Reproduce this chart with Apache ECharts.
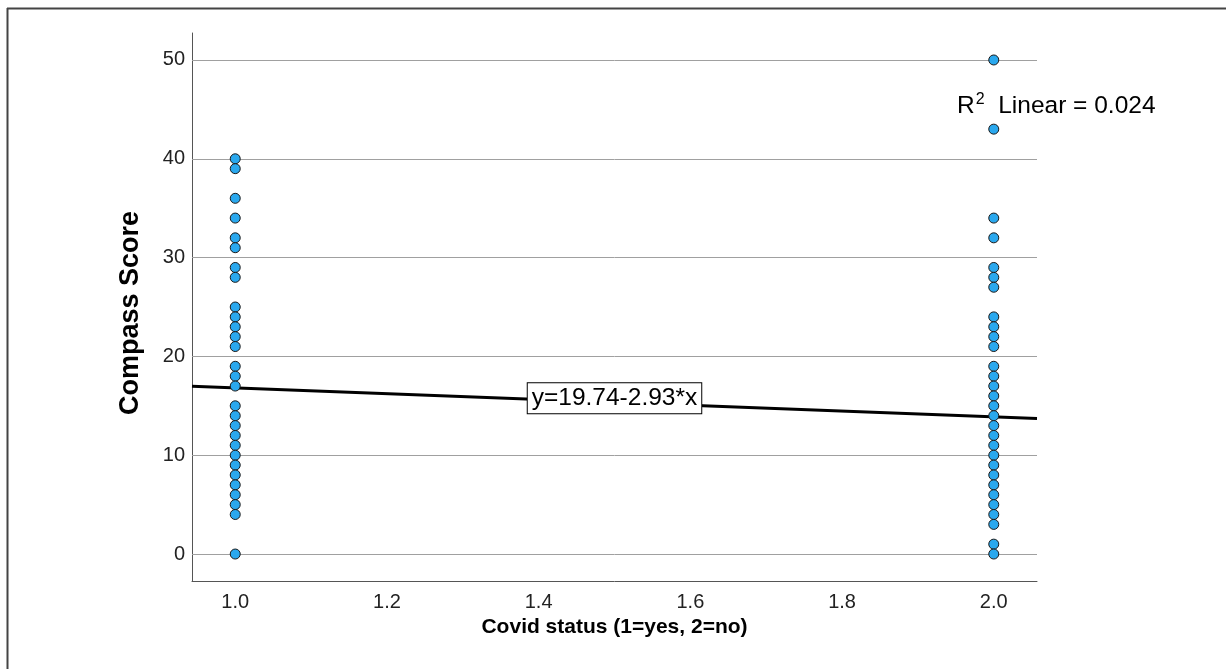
<!DOCTYPE html>
<html>
<head>
<meta charset="utf-8">
<script src="https://cdn.jsdelivr.net/npm/echarts@6/dist/echarts.min.js"></script>
<style>
html,body{margin:0;padding:0;background:#fff;}
#chart{width:1226px;height:669px;}
</style>
</head>
<body>
<div id="chart"></div>
<script>
// Data
const groupX = [1.0, 2.0];
const scoresYes = [40,39,36,34,32,31,29,28,25,24,23,22,21,19,18,17,15,14,13,12,11,10,9,8,7,6,5,4,0];
const scoresNo = [50,43,34,32,29,28,27,24,23,22,21,19,18,17,16,15,14,13,12,11,10,9,8,7,6,5,4,3,1,0];
const fitLineX = [0.943, 2.057];
const fitLineY = [16.98, 13.71];
const fitLabelPoint = [1.5, 15.35];
const fitLabelText = 'y=19.74-2.93*x';
const r2Text = '0.024';
const yTicks = [0,10,20,30,40,50];
const xTicks = [1.0,1.2,1.4,1.6,1.8,2.0];
const gridValues = [0,10,20,30,40,50];

const pts = [];
scoresYes.forEach(v => pts.push([groupX[0], v]));
scoresNo.forEach(v => pts.push([groupX[1], v]));

const chart = echarts.init(document.getElementById('chart'), null, {renderer:'canvas'});
const font = '"Liberation Sans", Arial, sans-serif';
chart.setOption({
  animation: false,
  backgroundColor: '#fff',
  grid: {left:192, right:189, top:33, bottom:88},
  xAxis: {
    type:'value', min:0.943, max:2.057,
    axisLine:{show:true, onZero:false, lineStyle:{color:'#555', width:1}},
    axisTick:{show:false},
    splitLine:{show:false},
    axisLabel:{customValues:xTicks, formatter:v=>v.toFixed(1), color:'#222', fontSize:20, fontFamily:font, margin:11},
    name:'Covid status (1=yes, 2=no)', nameLocation:'middle', nameGap:33,
    nameTextStyle:{fontSize:21, fontWeight:'bold', color:'#000', fontFamily:font}
  },
  yAxis: {
    type:'value', min:-2.73, max:52.73,
    axisLine:{show:true, onZero:false, lineStyle:{color:'#555', width:1}},
    axisTick:{show:false},
    splitLine:{show:false},
    axisLabel:{customValues:yTicks, color:'#222', fontSize:20, fontFamily:font, margin:7},
    name:'Compass Score', nameLocation:'middle', nameGap:48, nameRotate:90,
    nameTextStyle:{fontSize:27, fontWeight:'bold', color:'#000', fontFamily:font, padding:[0,12,0,0]}
  },
  series: [
    {
      type:'line', data: fitLineX.map((x,i)=>[x, fitLineY[i]]),
      symbol:'none', lineStyle:{color:'#000', width:3}, z:3,
      markLine:{
        silent:true, symbol:'none', label:{show:false},
        lineStyle:{color:'#a0a0a0', width:1, type:'solid'},
        data: gridValues.map(v=>({yAxis:v})), z:1
      }
    },
    {
      type:'scatter', data:pts, symbol:'circle', symbolSize:10, z:4,
      itemStyle:{color:'#2aa8ee', borderColor:'#1a1a1a', borderWidth:1, opacity:1}
    },
    {
      type:'scatter', data:[fitLabelPoint], symbolSize:0, z:6,
      itemStyle:{opacity:1},
      label:{show:true, position:'inside', offset:[0,-4], formatter:fitLabelText, color:'#000', fontSize:24.5, fontFamily:font,
        lineHeight:28, backgroundColor:'#fff', borderColor:'#000', borderWidth:1, padding:[1,4,1,4], opacity:1}
    }
  ],
  graphic: [
    {type:'line', shape:{x1:7, y1:8.5, x2:1226, y2:8.5}, style:{stroke:'#444', lineWidth:2}},
    {type:'line', shape:{x1:7.5, y1:8, x2:7.5, y2:669}, style:{stroke:'#444', lineWidth:2}},
    {type:'text', left:957, top:92, style:{
      text:'R{sup|2}  Linear = ' + r2Text,
      fontSize:24.5, fontFamily:font, fill:'#000',
      rich:{sup:{fontSize:16, verticalAlign:'top', padding:[0,0,12,1], fontFamily:font}}
    }}
  ]
});
</script>
</body>
</html>
